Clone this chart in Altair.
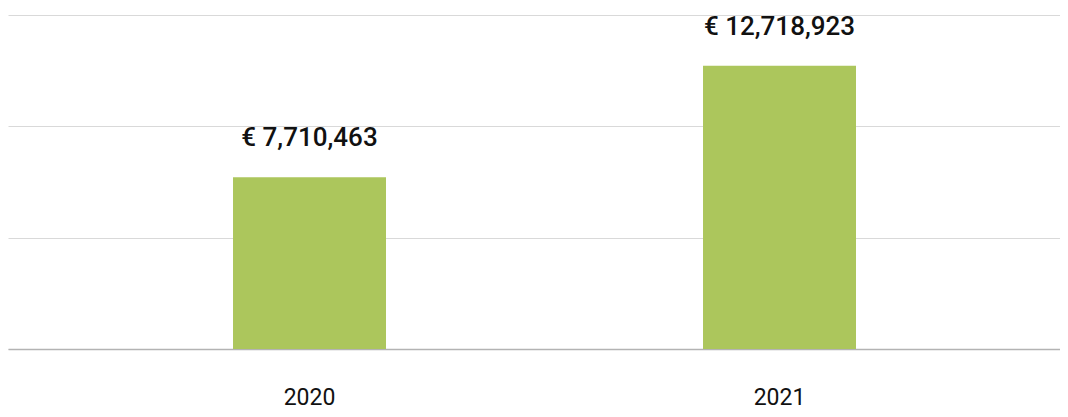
import altair as alt
import pandas as pd

years = ["2020", "2021"]
values = [7710463, 12718923]

df = pd.DataFrame({"year": years, "value": values})

x = alt.X(
    "year:N",
    sort=years,
    scale=alt.Scale(paddingInner=0.6745, paddingOuter=0.4564, align=0.5245),
    axis=alt.Axis(
        title=None,
        labelAngle=0,
        ticks=False,
        labelPadding=37,
        labelFont="Roboto",
        labelFontSize=23,
        labelColor="#111111",
        domainColor="#b3b3b3",
        domainWidth=1.5,
        grid=False,
    ),
)
y = alt.Y(
    "value:Q",
    scale=alt.Scale(domain=[0, 15000000], nice=False),
    axis=alt.Axis(
        title=None,
        values=[0, 5000000, 10000000, 15000000],
        labels=False,
        ticks=False,
        domain=False,
        grid=True,
        gridColor="#d9d9d9",
        gridWidth=1,
    ),
)

bars = alt.Chart(df).mark_bar(color="#acc65c").encode(x=x, y=y)

labels = (
    alt.Chart(df)
    .transform_calculate(label="'€ ' + format(datum.value, ',')")
    .mark_text(
        font="Roboto",
        fontSize=26,
        fontWeight=500,
        color="#111111",
        baseline="alphabetic",
        dy=-31,
    )
    .encode(x=alt.X("year:N", sort=years), y="value:Q", text="label:N")
)

chart = (
    alt.layer(bars, labels)
    .properties(
        width=1052,
        height=334,
        autosize=alt.AutoSizeParams(type="none"),
        padding={"left": 0, "top": 7, "right": 0, "bottom": 60},
    )
    .configure_view(stroke=None)
)

chart.save("out.html", embed_options={"renderer": "svg", "actions": False})
